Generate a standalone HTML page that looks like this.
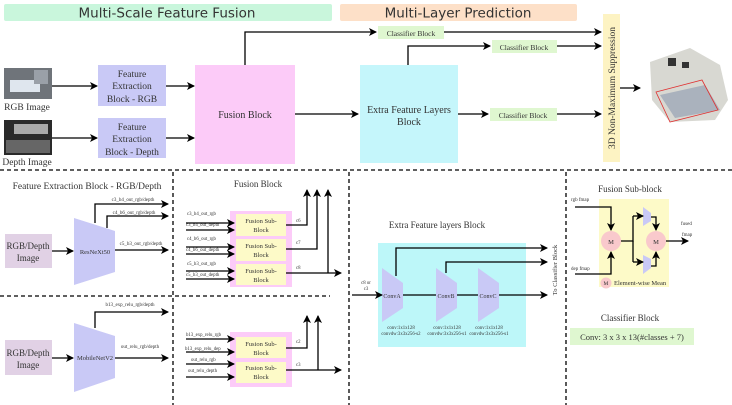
<!DOCTYPE html>
<html><head><meta charset="utf-8"><style>
html,body{margin:0;padding:0;background:#fff;}
svg{display:block;}
.s{font-family:"Liberation Serif",serif;fill:#333;}
.d{font-family:"DejaVu Sans","Liberation Sans",sans-serif;fill:#333;}
</style></head><body>
<svg width="732" height="405" viewBox="0 0 732 405" xmlns="http://www.w3.org/2000/svg">
<defs>
<marker id="a" markerWidth="8" markerHeight="8" refX="7" refY="4" orient="auto" markerUnits="userSpaceOnUse"><path d="M0,0 L8,4 L0,8 L2,4 z" fill="#000"/></marker>
</defs>
<!-- banners -->
<rect x="4" y="4" width="328" height="17" rx="2" fill="#c9f6dc"/>
<text x="167" y="17.5" class="d" font-size="13.5" text-anchor="middle">Multi-Scale Feature Fusion</text>
<rect x="340" y="4" width="237" height="17" rx="2" fill="#fde0c8"/>
<text x="458" y="17.5" class="d" font-size="13.5" text-anchor="middle">Multi-Layer Prediction</text>
<!-- images -->
<rect x="4" y="68" width="48" height="31" fill="#6f747a"/>
<rect x="10" y="80" width="30" height="12" fill="#dfe6ee"/>
<rect x="34" y="70" width="14" height="14" fill="#9aa0a8"/>
<text x="27" y="110" class="s" font-size="9.5" text-anchor="middle">RGB Image</text>
<rect x="4" y="120" width="48" height="35" fill="#2a2a2a"/>
<rect x="14" y="124" width="34" height="10" fill="#aaa"/>
<rect x="6" y="140" width="44" height="13" fill="#666"/>
<text x="27" y="165" class="s" font-size="9.5" text-anchor="middle">Depth Image</text>
<!-- FE boxes -->
<rect x="98" y="65" width="68" height="41" fill="#c9c9f6"/>
<text class="s" font-size="9.5" text-anchor="middle"><tspan x="132" y="77">Feature</tspan><tspan x="132" y="89">Extraction</tspan><tspan x="132" y="102">Block - RGB</tspan></text>
<rect x="98" y="118" width="68" height="40" fill="#c9c9f6"/>
<text class="s" font-size="9.5" text-anchor="middle"><tspan x="132" y="130">Feature</tspan><tspan x="132" y="142">Extraction</tspan><tspan x="132" y="155">Block - Depth</tspan></text>
<rect x="195" y="65" width="100" height="99" fill="#fccbf8"/>
<text x="245" y="118" class="s" font-size="10" text-anchor="middle">Fusion Block</text>
<rect x="360" y="65" width="98" height="98" fill="#c5f6fb"/>
<text class="s" font-size="10" text-anchor="middle"><tspan x="409" y="113">Extra Feature Layers</tspan><tspan x="409" y="125">Block</tspan></text>
<rect x="378" y="26" width="66" height="13" fill="#dff7d0"/>
<text x="411" y="36" class="s" font-size="7.5" text-anchor="middle">Classifier Block</text>
<rect x="492" y="40" width="65" height="13" fill="#dff7d0"/>
<text x="524" y="50" class="s" font-size="7.5" text-anchor="middle">Classifier Block</text>
<rect x="490" y="108" width="67" height="13" fill="#dff7d0"/>
<text x="523" y="118" class="s" font-size="7.5" text-anchor="middle">Classifier Block</text>
<rect x="603" y="14" width="17" height="148" fill="#fdf3c3"/>
<text transform="translate(615,88) rotate(-90)" class="s" font-size="9.5" text-anchor="middle">3D Non-Maximum Suppression</text>
<!-- 3d scene -->
<polygon points="650,62 690,48 720,65 728,100 715,120 670,122 652,100" fill="#d8d8d2"/>
<polygon points="660,95 705,85 720,110 675,118" fill="#aab2bd"/>
<rect x="668" y="58" width="8" height="8" fill="#333"/>
<rect x="682" y="62" width="7" height="6" fill="#333"/>
<polygon points="656,92 702,80 718,110 670,122" fill="none" stroke="#e03030" stroke-width="0.8"/>
<g stroke="#000" stroke-width="1.3" fill="none" marker-end="url(#a)">
<path d="M52,86 H97"/><path d="M52,138 H97"/>
<path d="M166,86 H194"/><path d="M166,138 H194"/>
<path d="M295,114 H358"/>
<path d="M245,65 V32 H376"/>
<path d="M444,32 H601"/>
<path d="M408,65 V46 H490"/>
<path d="M557,46 H601"/>
<path d="M458,114 H488"/>
<path d="M557,114 H601"/>
<path d="M620,88 H640"/>
</g>
<!-- dashed separators -->
<g stroke="#000" stroke-width="1.3" stroke-dasharray="4,3" fill="none">
<path d="M0,170 H732"/><path d="M0,296 H330"/>
<path d="M173,172 V405"/><path d="M349,172 V405"/><path d="M566,172 V405"/>
</g>
<!-- feature extraction -->
<text x="87" y="189" class="s" font-size="9.5" text-anchor="middle">Feature Extraction Block - RGB/Depth</text>
<rect x="5" y="234" width="47" height="34" fill="#e1d1e5"/>
<text class="s" font-size="9" text-anchor="middle"><tspan x="28" y="249">RGB/Depth</tspan><tspan x="28" y="261">Image</tspan></text>
<polygon points="74,218 115,231 115,272 74,285" fill="#c9c9f6"/>
<text x="95" y="254" class="s" font-size="6.5" text-anchor="middle">ResNeXt50</text>
<rect x="5" y="340" width="47" height="35" fill="#e1d1e5"/>
<text class="s" font-size="9" text-anchor="middle"><tspan x="28" y="356">RGB/Depth</tspan><tspan x="28" y="368">Image</tspan></text>
<polygon points="74,323 115,336 115,378 74,392" fill="#c9c9f6"/>
<text x="95" y="360" class="s" font-size="6.5" text-anchor="middle">MobileNetV2</text>
<g class="s" font-size="5">
<text x="133" y="201" text-anchor="middle">c3_b4_out_rgb/depth</text>
<text x="134" y="214" text-anchor="middle">c4_b6_out_rgb/depth</text>
<text x="141" y="245" text-anchor="middle">c5_b3_out_rgb/depth</text>
<text x="130" y="306" text-anchor="middle">b13_exp_relu_rgb/depth</text>
<text x="140" y="348" text-anchor="middle">out_relu_rgb/depth</text>
</g>
<g stroke="#000" stroke-width="1.3" fill="none" marker-end="url(#a)">
<path d="M52,251 H73"/><path d="M95,223 V204 H168"/><path d="M107,228 V216 H168"/><path d="M115,250 H168"/>
<path d="M52,358 H73"/><path d="M95,328 V312 H168"/><path d="M115,358 H168"/>
</g>
<!-- fusion block -->
<text x="258" y="187" class="s" font-size="9" text-anchor="middle">Fusion Block</text>
<rect x="230" y="211" width="62" height="76" fill="#fccbf8"/>
<rect x="236" y="214" width="50" height="22" fill="#fdfac8"/>
<rect x="236" y="239" width="50" height="22" fill="#fdfac8"/>
<rect x="236" y="264" width="50" height="21" fill="#fdfac8"/>
<g class="s" font-size="6.5" text-anchor="middle">
<text x="261" y="223">Fusion Sub-</text><text x="261" y="232">Block</text>
<text x="261" y="248">Fusion Sub-</text><text x="261" y="257">Block</text>
<text x="261" y="273">Fusion Sub-</text><text x="261" y="282">Block</text>
</g>
<rect x="230" y="332" width="62" height="55" fill="#fccbf8"/>
<rect x="236" y="337" width="50" height="21" fill="#fdfac8"/>
<rect x="236" y="362" width="50" height="21" fill="#fdfac8"/>
<g class="s" font-size="6.5" text-anchor="middle">
<text x="261" y="346">Fusion Sub-</text><text x="261" y="355">Block</text>
<text x="261" y="370">Fusion Sub-</text><text x="261" y="379">Block</text>
</g>
<g class="s" font-size="4.8">
<text x="187" y="215">c3_b4_out_rgb</text><text x="186" y="226">c3_b4_out_depth</text>
<text x="187" y="240">c4_b6_out_rgb</text><text x="186" y="251">c4_b6_out_depth</text>
<text x="187" y="265">c5_b3_out_rgb</text><text x="186" y="276">c5_b3_out_depth</text>
<text x="186" y="336">b13_exp_relu_rgb</text><text x="185" y="350">b13_exp_relu_dep</text>
<text x="191" y="361">out_relu_rgb</text><text x="188" y="372">out_relu_depth</text>
<text x="296" y="222">c6</text><text x="296" y="244">c7</text><text x="296" y="269">c8</text>
<text x="296" y="343">c2</text><text x="296" y="366">c3</text>
</g>
<g stroke="#000" stroke-width="1.3" fill="none" marker-end="url(#a)">
<path d="M186,223 H234"/><path d="M186,230 H234"/><path d="M186,247 H234"/><path d="M186,254 H234"/><path d="M186,271 H234"/><path d="M186,279 H234"/>
<path d="M186,339 H234"/><path d="M186,352 H234"/><path d="M186,364 H234"/><path d="M186,377 H234"/>
<path d="M286,225 H307 V190"/><path d="M286,249 H317 V190"/><path d="M286,273 H341"/><path d="M328,273 V190"/>
<path d="M286,348 H307 V316"/><path d="M286,370 H341"/><path d="M318,370 V316"/>
</g>
<!-- extra feature -->
<text x="437" y="228" class="s" font-size="9" text-anchor="middle">Extra Feature layers Block</text>
<rect x="378" y="243" width="148" height="104" fill="#bdf7f9"/>
<polygon points="382,268 403,283 403,308 382,322" fill="#c9c9f6"/>
<polygon points="436,268 457,283 457,308 436,322" fill="#c9c9f6"/>
<polygon points="478,268 499,283 499,308 478,322" fill="#c9c9f6"/>
<g stroke="#000" stroke-width="1.3" fill="none">
<path d="M403,295 H436"/><path d="M457,295 H478"/>
</g>
<g stroke="#000" stroke-width="1.3" fill="none" marker-end="url(#a)">
<path d="M352,295 H382"/><path d="M499,295 H547"/>
<path d="M396,276 V248 H547"/><path d="M446,273 V262 H547"/>
</g>
<g class="s" font-size="6" text-anchor="middle">
<text x="392" y="298">ConvA</text><text x="446" y="298">ConvB</text><text x="488" y="298">ConvC</text>
</g>
<g class="s" font-size="4.8" text-anchor="middle">
<text x="366" y="284">c8 or</text><text x="366" y="290">c3</text>
<text x="401" y="329">conv:1x1x128</text><text x="401" y="335">convdw:3x3x256-s2</text>
<text x="447" y="329">conv:1x1x128</text><text x="447" y="335">convdw:3x3x256-s1</text>
<text x="489" y="329">conv:1x1x128</text><text x="489" y="335">convdw:3x3x256-s1</text>
</g>
<text transform="translate(557,270) rotate(-90)" class="s" font-size="6.5" text-anchor="middle">To Classifier Block</text>
<!-- fusion sub-block -->
<text x="630" y="192" class="s" font-size="9" text-anchor="middle">Fusion Sub-block</text>
<rect x="599" y="199" width="70" height="88" fill="#fdfac8"/>
<polygon points="643,207 651,213 651,221 643,226" fill="#c9c9f6"/>
<polygon points="643,255 651,259 651,268 643,274" fill="#c9c9f6"/>
<circle cx="611" cy="241" r="10" fill="#f9c9cc"/>
<circle cx="656" cy="241" r="10" fill="#f9c9cc"/>
<circle cx="606" cy="283" r="5.5" fill="#f9c9cc"/>
<g stroke="#000" stroke-width="1.3" fill="none">
<path d="M621,241 H633 V216"/><path d="M633,241 V262"/>
</g>
<g stroke="#000" stroke-width="1.3" fill="none" marker-end="url(#a)">
<path d="M575,207 H611 V230"/><path d="M575,274 H611 V252"/>
<path d="M633,216 H643"/><path d="M633,262 H643"/>
<path d="M651,217 H656 V230"/><path d="M651,266 H656 V252"/>
<path d="M666,241 H688"/>
</g>
<g class="s" font-size="5" >
<text x="571" y="201">rgb fmap</text><text x="571" y="270">dep fmap</text>
<text x="681" y="225">fused</text><text x="682" y="236">fmap</text>
</g>
<g class="s" font-size="6.5"><text x="611" y="244" text-anchor="middle">M</text><text x="656" y="244" text-anchor="middle">M</text>
<text x="606" y="285" text-anchor="middle" font-size="5.5">M</text><text x="614" y="285" font-size="6.5">Element-wise Mean</text></g>
<text x="630" y="321" class="s" font-size="9" text-anchor="middle">Classifier Block</text>
<rect x="570" y="328" width="124" height="17" fill="#dff7d0"/>
<text x="632" y="340" class="s" font-size="8.5" text-anchor="middle">Conv: 3 x 3 x 13(#classes + 7)</text>
</svg>
</body></html>
